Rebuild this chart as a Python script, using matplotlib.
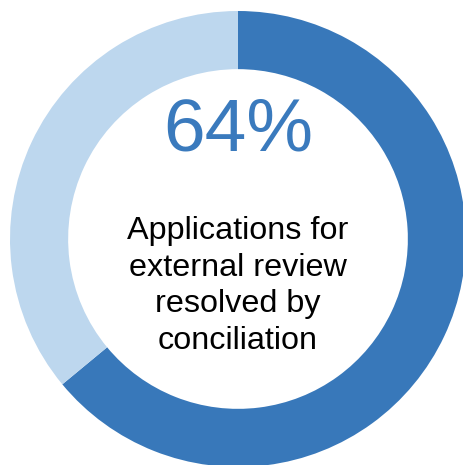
import matplotlib
matplotlib.use("Agg")
import matplotlib.pyplot as plt

labels = ["Resolved by conciliation", "Other"]
values = [64, 36]
colors = ["#3878BA", "#BDD7EE"]
headline = "64%"
caption = "Applications for\nexternal review\nresolved by\nconciliation"

W, H = 464, 465
fig = plt.figure(figsize=(W / 100, H / 100), dpi=100)
ax = fig.add_axes([0, 0, 1, 1])
cx, cy, R = 238, 239, 228
ax.pie(values, colors=colors, startangle=90, counterclock=False, radius=1,
       wedgeprops=dict(width=0.255, linewidth=0))
ax.set_xlim(-cx / R, (W - cx) / R)
ax.set_ylim(-(H - cy) / R, cy / R)
ax.set_aspect("auto")
ax.axis("off")

ax.text(0, (cy - 131) / R, headline, ha="center", va="center",
        fontsize=54, color="#3A7ABD", family="Liberation Sans")
ax.text(0, (cy - 286) / R, caption, ha="center", va="center",
        fontsize=23.3, color="black", family="Liberation Sans", linespacing=1.28)

fig.savefig("out.png", dpi=100)
